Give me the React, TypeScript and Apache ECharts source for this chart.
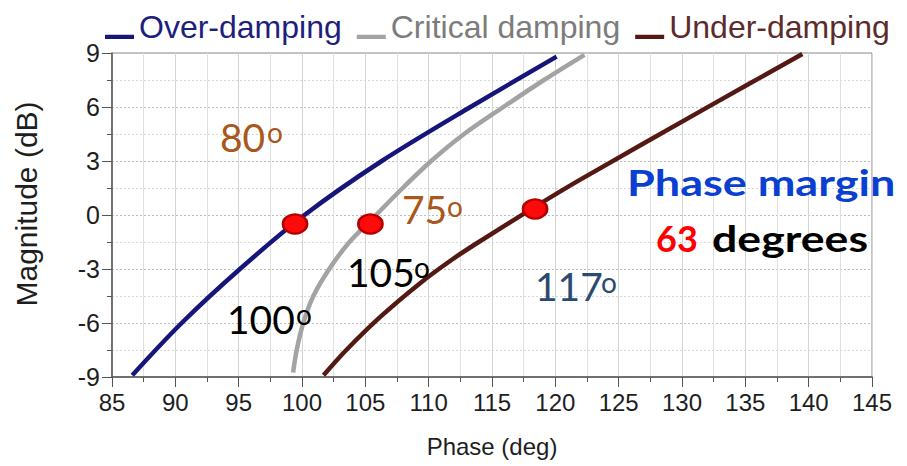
import React, { useEffect, useRef } from 'react';
import * as echarts from 'echarts';

// ---- data ----
const seriesNames = ['Over-damping', 'Critical damping', 'Under-damping'];
const overDamping = [
  [86.6, -8.9], [90.5, -6], [95.1, -3], [100.2, 0], [106.3, 3], [113.3, 6], [120.1, 8.8],
];
const criticalDamping = [
  [99.3, -8.75], [99.58, -7.5], [100.1, -6], [100.9, -4.5], [102.15, -3], [103.75, -1.5],
  [105.85, 0], [107.95, 1.5], [110.2, 3], [112.8, 4.5], [115.9, 6], [119.1, 7.5], [122.3, 8.9],
];
const underDamping = [
  [101.7, -8.9], [103.5, -7.5], [106.2, -5.65], [109.3, -3.8], [111.8, -2.5], [113.8, -1.57],
  [118.1, 0.33], [121.9, 1.94], [132.1, 6.02], [139.5, 8.94],
];
const crossingPoints = [[99.45, -0.5], [105.4, -0.5], [118.4, 0.33]];
const xTickLabels = [85, 90, 95, 100, 105, 110, 115, 120, 125, 130, 135, 140, 145];
const yTickLabels = [-9, -6, -3, 0, 3, 6, 9];
const angleLabels = ['80', '75', '105', '100', '117'];
const marginTitle = 'Phase margin';
const marginValue = '63';
const marginUnit = 'degrees';

const seriesColors = ['#16167a', '#a3a3a3', '#541912'];
const legendColors = ['#1e1e7c', '#7c7c7c', '#5c2b2b'];

export default function App() {
  const ref = useRef<HTMLDivElement>(null);
  useEffect(() => {
    if (!ref.current) return;
    const chart = echarts.init(ref.current, undefined, { renderer: 'svg' });
    const lato = 'Lato, "Open Sans", sans-serif';
    const sans = '"Liberation Sans", Arial, sans-serif';
    const angleStyle = [
      { x: 220, y: 137, ox: 275, oy: 132, color: '#a9571a' },
      { x: 402, y: 209, ox: 455, oy: 206, color: '#a9571a' },
      { x: 347, y: 272, ox: 422, oy: 267, color: '#000000' },
      { x: 227, y: 319, ox: 304, oy: 314, color: '#000000' },
      { x: 535, y: 286, ox: 609, oy: 282, color: '#2b4a6f' },
    ];
    const graphics: any[] = [];
    angleLabels.forEach((t, i) => {
      const s = angleStyle[i];
      graphics.push({
        type: 'text', x: s.x, y: s.y, z: 100,
        style: { text: t, fill: s.color, font: `39px ${lato}`, textAlign: 'left', textVerticalAlign: 'middle' },
      });
      graphics.push({
        type: 'text', x: s.ox, y: s.oy, z: 100,
        style: { text: 'o', fill: s.color, font: `28px ${lato}`, textAlign: 'center', textVerticalAlign: 'middle' },
      });
    });
    graphics.push({
      type: 'text', x: 627, y: 182, z: 100, scaleX: 1.25,
      style: { text: marginTitle, fill: '#0a3fd1', font: `bold 36px ${lato}`, textAlign: 'left', textVerticalAlign: 'middle' },
    });
    graphics.push({
      type: 'text', x: 656, y: 238, z: 100,
      style: { text: marginValue, fill: '#ff0000', font: `bold 36px ${lato}`, textAlign: 'left', textVerticalAlign: 'middle' },
    });
    graphics.push({
      type: 'text', x: 712, y: 238, z: 100, scaleX: 1.24,
      style: { text: marginUnit, fill: '#000000', font: `bold 36px ${lato}`, textAlign: 'left', textVerticalAlign: 'middle' },
    });

    const lineSeries = [overDamping, criticalDamping, underDamping].map((d, i) => ({
      name: seriesNames[i],
      type: 'line',
      data: d,
      smooth: 0.3,
      symbol: 'none',
      lineStyle: { color: seriesColors[i], width: 4.5 },
      itemStyle: { color: seriesColors[i] },
      z: 3,
    }));

    chart.setOption({
      animation: false,
      grid: { left: 112, right: 35, top: 53, bottom: 89, show: true, borderColor: '#8a8a8a', borderWidth: 1 },
      legend: {
        left: 100, top: 5, itemWidth: 29, itemHeight: 28, itemGap: 15,
        icon: 'path://M0,0h0.2v0.2h-0.2Z M0,68h100v14h-100Z',
        selectedMode: false,
        textStyle: { fontSize: 32, fontFamily: sans, lineHeight: 34 },
        data: seriesNames.map((n, i) => ({ name: n, textStyle: { color: legendColors[i] } })),
      },
      xAxis: {
        type: 'value',
        min: xTickLabels[0], max: xTickLabels[xTickLabels.length - 1], interval: 5,
        axisLine: { show: true, onZero: false, lineStyle: { color: '#555', width: 1.5 } },
        axisTick: { show: true, inside: false, length: 10, lineStyle: { color: '#555' } },
        minorTick: { show: true, splitNumber: 2, length: 5, lineStyle: { color: '#555' } },
        splitLine: { show: true, lineStyle: { color: '#d4d4d4', width: 1 } },
        minorSplitLine: { show: true, lineStyle: { color: '#e0e0e0', width: 1 } },
        axisLabel: { fontSize: 24, color: '#1e1e1e', margin: 13, fontFamily: sans },
        name: 'Phase (deg)', nameLocation: 'middle', nameGap: 57,
        nameTextStyle: { fontSize: 24, color: '#1e1e1e', fontFamily: sans },
      },
      yAxis: {
        type: 'value',
        min: yTickLabels[0], max: yTickLabels[yTickLabels.length - 1], interval: 3,
        axisLine: { show: true, onZero: false, lineStyle: { color: '#555', width: 1.5 } },
        axisTick: { show: true, inside: false, length: 10, lineStyle: { color: '#555' } },
        minorTick: { show: true, splitNumber: 2, length: 5, lineStyle: { color: '#555' } },
        splitLine: { show: true, lineStyle: { color: '#bdbdbd', width: 1, type: [2, 2] } },
        minorSplitLine: { show: true, lineStyle: { color: '#d8d8d8', width: 1, type: [2, 2] } },
        axisLabel: { fontSize: 25, color: '#1e1e1e', margin: 12, padding: [0, 0, 20, 0], fontFamily: sans },
        name: 'Magnitude (dB)', nameLocation: 'middle', nameGap: 71,
        nameTextStyle: { fontSize: 30, color: '#1e1e1e', padding: [0, 0, 0, 22], fontFamily: sans },
      },
      series: [
        ...lineSeries,
        {
          type: 'scatter',
          data: crossingPoints,
          symbol: 'circle',
          symbolSize: [24, 19],
          itemStyle: { color: '#ff0a0a', borderColor: '#b50000', borderWidth: 2.5, opacity: 1 },
          z: 10,
        },
      ],
      graphic: graphics,
    });
    return () => chart.dispose();
  }, []);
  return <div ref={ref} style={{ width: 907, height: 466, position: 'absolute', left: 0, top: 0 }} />;
}
